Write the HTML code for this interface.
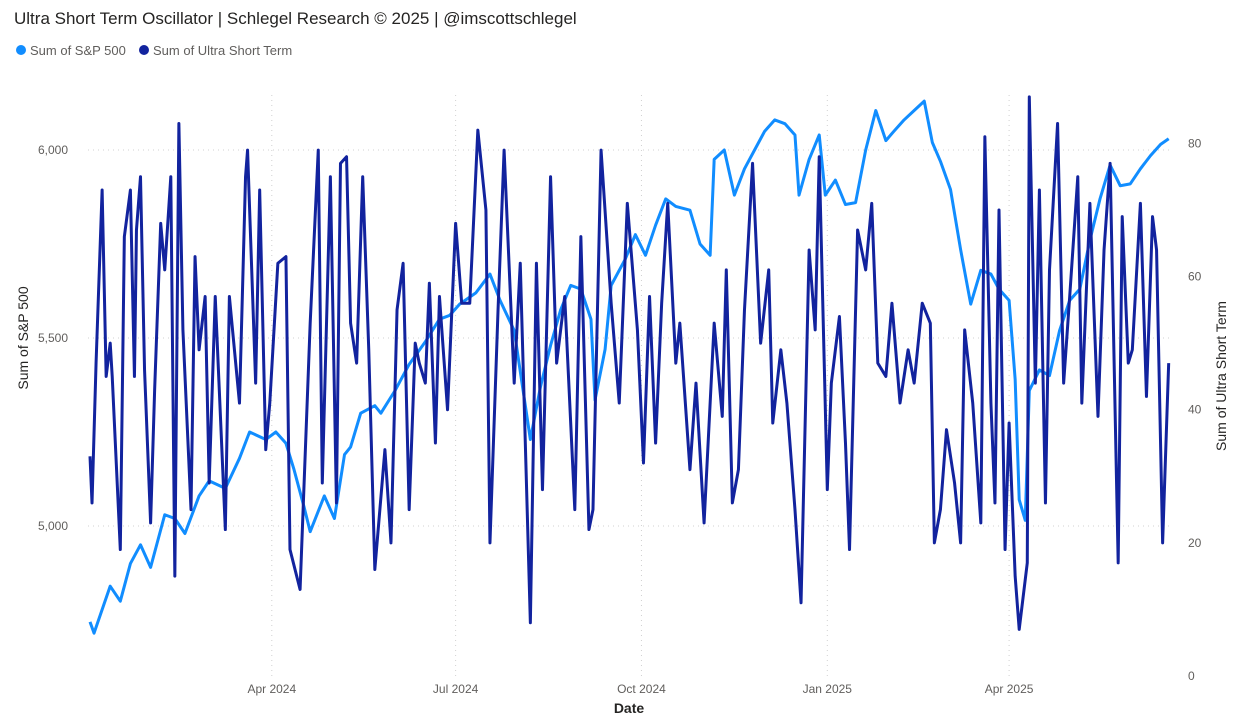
<!DOCTYPE html>
<html><head><meta charset="utf-8"><style>
body{margin:0;background:#fff;width:1235px;height:717px;overflow:hidden;font-family:"Liberation Sans",sans-serif}
</style></head><body>
<svg id="c" width="1235" height="717" xmlns="http://www.w3.org/2000/svg">
<text x="14" y="24" font-size="17" fill="#252423">Ultra Short Term Oscillator | Schlegel Research © 2025 | @imscottschlegel</text>
<g>
<circle cx="21" cy="50" r="5" fill="#118DFF"/>
<text x="30" y="55" font-size="13" fill="#605E5C">Sum of S&amp;P 500</text>
<circle cx="144" cy="50" r="5" fill="#12239E"/>
<text x="153" y="55" font-size="13" fill="#605E5C">Sum of Ultra Short Term</text>
</g>
<g id="grid"></g><g id="axes"></g><g id="lines"></g>
<text x="629" y="713" font-size="14" text-anchor="middle" fill="#252423" font-weight="bold">Date</text>
<text transform="translate(28,338) rotate(-90)" font-size="14" text-anchor="middle" fill="#252423">Sum of S&amp;P 500</text>
<text transform="translate(1226,376) rotate(-90)" font-size="14" text-anchor="middle" fill="#252423">Sum of Ultra Short Term</text>
</svg>
<script>
const spDays=[0,2,10,15,20,25,30,37,42,47,54,59,67,74,79,87,92,97,101,106,109,116,121,126,129,134,141,144,151,158,166,173,178,183,191,198,203,210,218,223,228,233,238,243,248,250,255,258,265,270,275,280,285,290,297,302,307,309,314,319,324,329,334,339,344,349,351,356,361,364,369,374,379,384,389,394,398,403,408,413,417,421,426,431,436,441,446,450,455,458,460,463,465,470,475,480,485,490,495,500,505,510,515,520,525,530,534];
const spValues=[4745,4715,4840,4800,4900,4950,4890,5030,5020,4980,5080,5120,5100,5180,5250,5230,5250,5220,5150,5050,4985,5080,5020,5190,5210,5300,5320,5300,5360,5430,5490,5550,5560,5590,5620,5670,5600,5520,5230,5370,5480,5575,5640,5630,5550,5335,5470,5640,5710,5775,5720,5800,5870,5850,5840,5750,5720,5975,6000,5880,5950,6000,6050,6080,6070,6040,5880,5975,6040,5880,5920,5855,5860,6000,6105,6025,6050,6080,6105,6130,6020,5970,5895,5735,5590,5680,5670,5630,5600,5390,5070,5015,5360,5415,5400,5520,5600,5630,5760,5870,5960,5905,5910,5950,5985,6015,6030];
const ustDays=[0,1,3,6,8,10,11,15,17,20,22,23,25,27,30,32,35,37,40,42,44,46,50,52,54,57,59,62,64,67,69,74,77,78,82,84,87,89,93,97,99,104,109,113,115,119,122,124,127,129,132,135,138,141,146,149,152,155,158,161,163,166,168,171,173,177,181,184,188,192,196,198,202,205,210,213,218,221,224,228,231,235,240,243,247,249,253,258,262,266,271,274,277,280,283,286,290,292,297,300,304,309,313,315,318,321,324,328,332,336,338,342,345,349,352,356,359,361,365,367,371,374,376,380,384,387,390,394,397,401,405,408,412,416,418,421,424,428,431,433,437,441,443,446,448,450,453,455,458,460,464,465,468,470,473,475,479,482,485,489,491,495,499,502,505,509,511,514,516,520,523,526,528,531,534];
const ustValues=[33,26,47,73,45,50,45,19,66,73,45,67,75,46,23,43,68,61,75,15,83,52,25,63,49,57,29,57,43,22,57,41,75,79,44,73,34,41,62,63,19,13,53,79,29,75,26,77,78,53,47,75,49,16,34,20,55,62,25,50,47,44,59,35,57,40,68,56,56,82,70,20,55,79,44,62,8,62,28,75,47,57,25,66,22,25,79,56,41,71,52,32,57,35,56,71,47,53,31,44,23,53,39,61,26,31,55,77,50,61,38,49,41,25,11,64,52,78,28,44,54,35,19,67,61,71,47,45,56,41,49,44,56,53,20,25,37,29,20,52,41,23,81,41,26,70,19,38,15,7,17,87,44,73,26,61,83,44,57,75,41,71,39,64,77,17,69,47,49,71,42,69,64,20,47];
const xTickLabels=["Apr 2024","Jul 2024","Oct 2024","Jan 2025","Apr 2025"];
const xTickDays=[90,181,273,365,455];
const leftTicks=[5000,5500,6000];
const rightTicks=[0,20,40,60,80];
const X=d=>90+d*2.02;
const YL=v=>150+(6000-v)*0.376;
const YR=v=>676-v*6.657;
const NS="http://www.w3.org/2000/svg";
function mk(tag,attrs,parent,txt){const e=document.createElementNS(NS,tag);for(const k in attrs)e.setAttribute(k,attrs[k]);if(txt!==undefined)e.textContent=txt;document.getElementById(parent).appendChild(e);return e;}
leftTicks.forEach(v=>{
 const g=mk('line',{x1:88,x2:1170,y1:YL(v),y2:YL(v),stroke:'#d0d0d0','stroke-dasharray':'1,4'},'grid');
 
 
 const t=mk('text',{x:68,y:YL(v)+4,'font-size':12,'text-anchor':'end',fill:'#605E5C'},'axes',v.toLocaleString('en-US'));
 
 
});
rightTicks.forEach(v=>{
 const t=mk('text',{x:1188,y:YR(v)+4,'font-size':12,fill:'#605E5C'},'axes',String(v));
 
 
});
xTickDays.forEach((d,i)=>{
 const g=mk('line',{x1:X(d),x2:X(d),y1:95,y2:676,stroke:'#d0d0d0','stroke-dasharray':'1,4'},'grid');
 
 
 const t=mk('text',{x:X(d),y:693,'font-size':12,'text-anchor':'middle',fill:'#605E5C'},'axes',xTickLabels[i]);
 
 
});
const p1=mk('polyline',{points:spDays.map((d,i)=>X(d)+','+YL(spValues[i])).join(' '),fill:'none',stroke:'#118DFF','stroke-width':3,'stroke-linejoin':'round'},'lines');


const p2=mk('polyline',{points:ustDays.map((d,i)=>X(d)+','+YR(ustValues[i])).join(' '),fill:'none',stroke:'#12239E','stroke-width':3,'stroke-linejoin':'round'},'lines');


</script>
</body></html>
